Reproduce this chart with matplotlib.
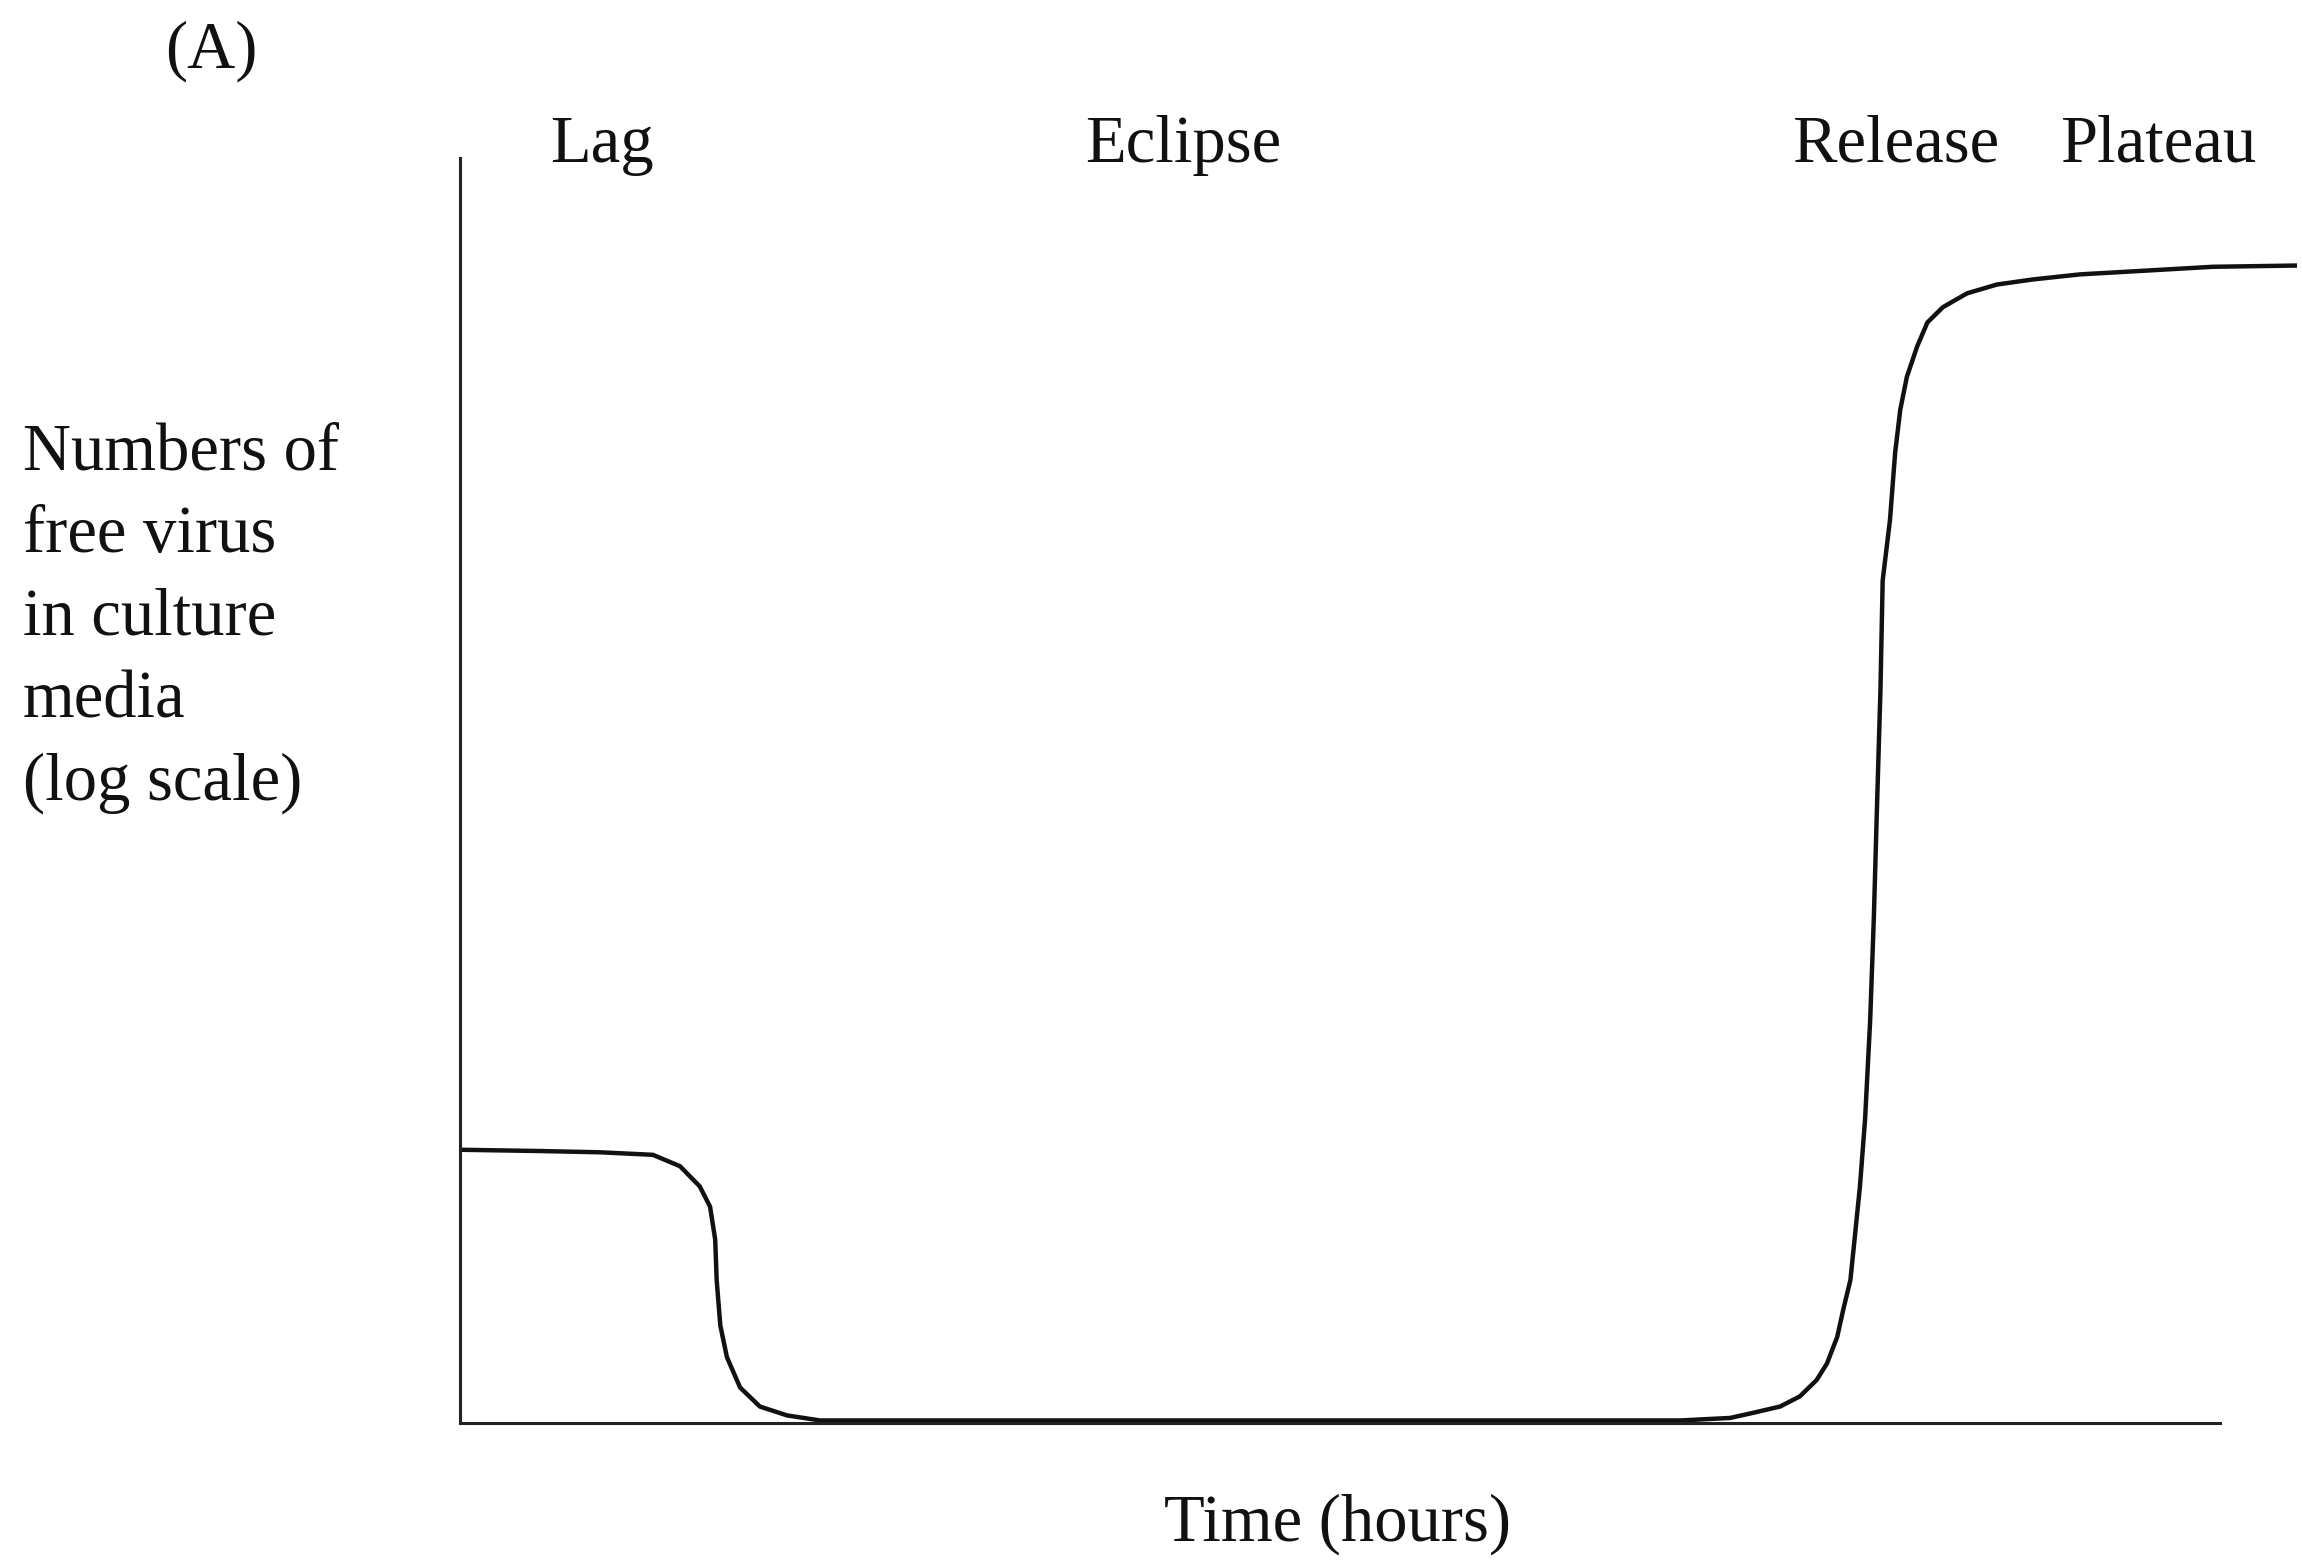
import matplotlib.pyplot as plt

# one-step growth curve of a virus in culture
# x = time (hours), y = log of free virus in the medium (arbitrary units)
time_h = [0.0, 1.09, 1.91, 2.63, 3.00, 3.27, 3.41, 3.48, 3.50, 3.55, 3.64,
          3.82, 4.09, 4.46, 4.91, 7.36, 11.45, 16.64, 17.32, 17.63, 18.00,
          18.27, 18.50, 18.64, 18.78, 18.86, 18.96, 19.02, 19.09, 19.16,
          19.23, 19.28, 19.32, 19.37, 19.40, 19.50, 19.57, 19.64, 19.73,
          19.87, 20.01, 20.22, 20.55, 20.96, 21.45, 22.09, 23.00, 23.90, 25.05]
log_virus = [2.16, 2.15, 2.14, 2.12, 2.03, 1.87, 1.71, 1.45, 1.13, 0.77, 0.52,
             0.28, 0.13, 0.06, 0.02, 0.02, 0.02, 0.02, 0.04, 0.08, 0.13,
             0.21, 0.34, 0.47, 0.68, 0.89, 1.13, 1.47, 1.87, 2.40,
             3.19, 4.00, 4.82, 5.80, 6.66, 7.14, 7.67, 8.01, 8.27,
             8.51, 8.70, 8.82, 8.93, 9.00, 9.04, 9.08, 9.11, 9.14, 9.15]

phase_names = ["Lag", "Eclipse", "Release", "Plateau"]
phase_x = [1.94, 9.86, 19.58, 23.16]

ylabel_lines = ["Numbers of", "free virus", "in culture", "media", "(log scale)"]

W, H = 2302, 1564
plt.rcParams['font.family'] = ['Liberation Serif', 'DejaVu Serif']
fig = plt.figure(figsize=(W / 100, H / 100), dpi=100)

# axes box in pixels: left 460, right 2220, top 158, bottom 1423
ax = fig.add_axes([460 / W, (H - 1423) / H, (2220 - 460) / W, (1423 - 158) / H])
ax.plot(time_h, log_virus, color="#111111", lw=3.2, clip_on=False,
        solid_capstyle="butt", solid_joinstyle="round")
ax.set_xlim(0, 24)
ax.set_ylim(0, 10)

for side in ["top", "right"]:
    ax.spines[side].set_visible(False)
for side in ["left", "bottom"]:
    ax.spines[side].set_linewidth(2.2)
    ax.spines[side].set_color("#222222")
ax.set_xticks([])
ax.set_yticks([])

txt = dict(fontsize=48, color="#111111")

for name, x in zip(phase_names, phase_x):
    ax.text(x, 9.97, name, ha="center", va="baseline", clip_on=False, **txt)

fig.text(211 / W, 1 - 68 / H, "(A)", ha="center", va="baseline", **txt)
fig.text(1337 / W, 1 - 1541 / H, "Time (hours)", ha="center", va="baseline", **txt)

# multi-line label: baseline anchor is the last line
fig.text(23 / W, 1 - 800 / H, "\n".join(ylabel_lines), ha="left",
         va="baseline", linespacing=1.46, **txt)

fig.savefig("out.png", dpi=100, facecolor="white")
